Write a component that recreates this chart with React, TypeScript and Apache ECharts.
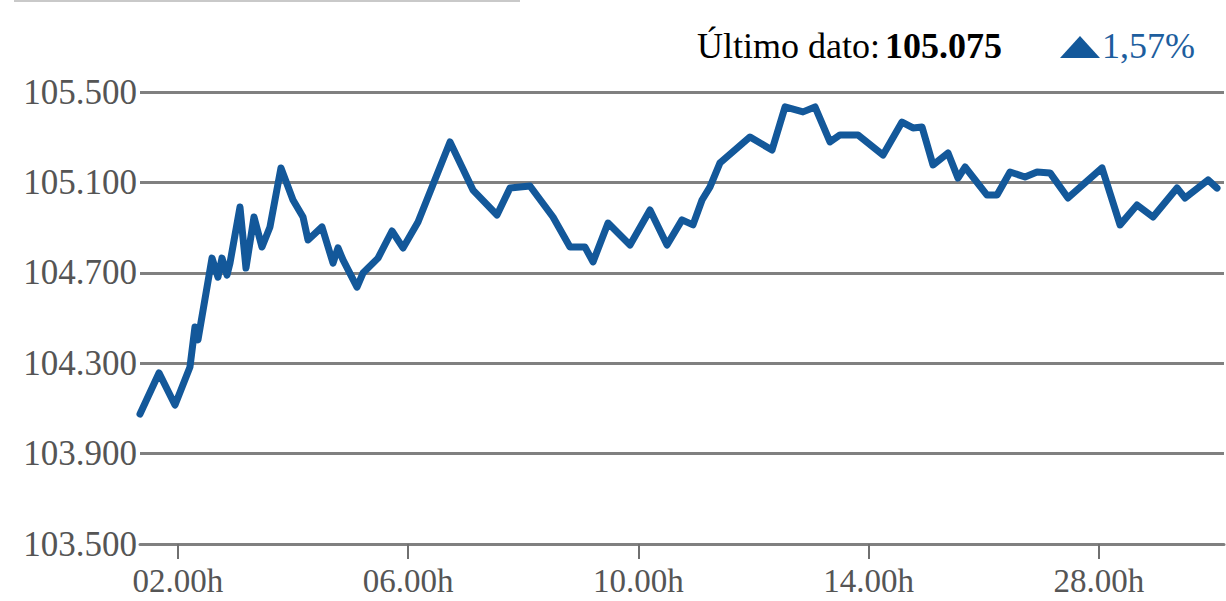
import React, { useEffect, useRef } from "react";
import * as echarts from "echarts";

// Time in hours (position on the time axis)
const hours = [
  1.34, 1.67, 1.948, 2.208, 2.295, 2.347, 2.591, 2.695, 2.764, 2.851, 2.903,
  3.077, 3.181, 3.32, 3.459, 3.598, 3.789, 3.998, 4.172, 4.259, 4.502, 4.693,
  4.78, 4.867, 5.11, 5.214, 5.475, 5.718, 5.909, 6.17, 6.726, 7.125, 7.542,
  7.768, 8.115, 8.515, 8.81, 9.071, 9.21, 9.471, 9.853, 10.2, 10.496, 10.756,
  10.947, 11.104, 11.243, 11.416, 11.938, 12.32, 12.546, 12.858, 13.067,
  13.327, 13.501, 13.814, 14.248, 14.578, 14.769, 14.926, 15.117, 15.378,
  15.551, 15.673, 16.055, 16.229, 16.455, 16.715, 16.924, 17.15, 17.462,
  18.053, 18.366, 18.661, 18.939, 19.356, 19.495, 19.895, 20.051,
];

// Index values
const values = [
  104075, 104257, 104115, 104283, 104460, 104403, 104765, 104681, 104765,
  104690, 104743, 104991, 104721, 104947, 104814, 104903, 105164, 105022,
  104947, 104845, 104903, 104743, 104810, 104757, 104637, 104699, 104765,
  104885, 104810, 104925, 105279, 105066, 104956, 105075, 105084, 104947,
  104814, 104814, 104748, 104920, 104823, 104978, 104823, 104934, 104912,
  105022, 105080, 105186, 105301, 105243, 105434, 105412, 105434, 105279,
  105310, 105310, 105221, 105367, 105341, 105345, 105177, 105230, 105119,
  105168, 105044, 105044, 105146, 105124, 105146, 105142, 105031, 105164,
  104912, 105000, 104947, 105075, 105031, 105111, 105075,
];

const xTickValues = [2, 6, 10, 14, 18];
const xTickLabels = ["02.00h", "06.00h", "10.00h", "14.00h", "28.00h"];
const yTickValues = [103500, 103900, 104300, 104700, 105100, 105500];
const yTickLabels = ["103.500", "103.900", "104.300", "104.700", "105.100", "105.500"];

const lastLabel = "Último dato:";
const lastValue = "105.075";
const changeText = "1,57%";

const FONT = "'Liberation Serif', 'Times New Roman', serif";
const BLUE = "#13589a";

export default function App() {
  const ref = useRef<HTMLDivElement>(null);

  useEffect(() => {
    if (!ref.current) return;
    const chart = echarts.init(ref.current, null, { renderer: "svg" });
    const data = hours.map((h, i) => [h, values[i]]);

    chart.setOption({
      animation: false,
      backgroundColor: "#ffffff",
      grid: { left: 140, right: 2, top: 92, bottom: 57 },
      xAxis: {
        type: "value",
        min: 1.34,
        max: 20.172,
        axisLine: { show: true, lineStyle: { color: "#808080", width: 3 } },
        axisTick: {
          show: true,
          customValues: xTickValues,
          length: 15,
          lineStyle: { color: "#707070", width: 2 },
        },
        axisLabel: {
          customValues: xTickValues,
          formatter: (v: number) => {
            const i = xTickValues.indexOf(v);
            return i >= 0 ? xTickLabels[i] : "";
          },
          fontFamily: FONT,
          fontSize: 33,
          lineHeight: 26,
          color: "#555555",
          margin: 24,
        },
        splitLine: { show: false },
      },
      yAxis: {
        type: "value",
        min: 103500,
        max: 105500,
        axisLine: { show: false },
        axisTick: { show: false, customValues: yTickValues },
        axisLabel: {
          customValues: yTickValues,
          formatter: (v: number) => {
            const i = yTickValues.indexOf(v);
            return i >= 0 ? yTickLabels[i] : "";
          },
          fontFamily: FONT,
          fontSize: 35,
          color: "#555555",
          margin: 3,
          padding: [0, 0, 12, 0],
        },
        splitLine: { show: true, lineStyle: { color: "#808080", width: 3 } },
      },
      series: [
        {
          type: "line",
          data,
          showSymbol: false,
          symbol: "none",
          lineStyle: { color: BLUE, width: 7, join: "round", cap: "round" },
          z: 5,
        },
      ],
      graphic: [
        {
          type: "line",
          shape: { x1: 14, y1: 1, x2: 520, y2: 1 },
          style: { stroke: "#c9c9c9", lineWidth: 2 },
        },
        {
          type: "text",
          x: 697,
          y: 46,
          style: {
            text: `{a|${lastLabel}}{b|${lastValue}}`,
            verticalAlign: "middle",
            rich: {
              a: { fontFamily: FONT, fontSize: 36, color: "#5a5a5a" },
              b: {
                fontFamily: FONT,
                fontSize: 36,
                fontWeight: "bold",
                color: "#2a2a2a",
                padding: [0, 0, 0, 5],
              },
            },
          },
        },
        {
          type: "polygon",
          shape: { points: [[1060, 58], [1100, 58], [1080, 36]] },
          style: { fill: BLUE },
        },
        {
          type: "text",
          x: 1102,
          y: 46,
          style: {
            text: changeText,
            verticalAlign: "middle",
            fontFamily: FONT,
            fontSize: 36,
            fill: "#1d5e9e",
          },
        },
      ],
    });

    return () => {
      chart.dispose();
    };
  }, []);

  return (
    <div
      ref={ref}
      style={{ position: "absolute", left: 0, top: 0, width: 1226, height: 601 }}
    />
  );
}
